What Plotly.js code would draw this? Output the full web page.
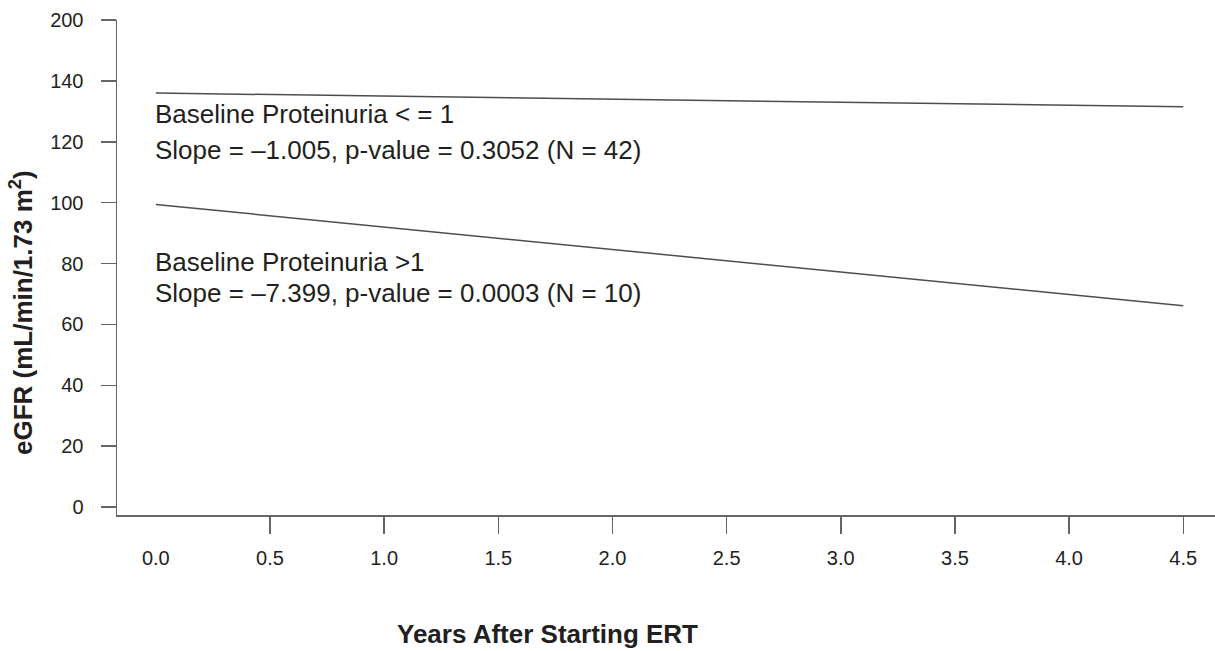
<!DOCTYPE html>
<html>
<head>
<meta charset="utf-8">
<script src="https://cdn.plot.ly/plotly-3.0.1.min.js"></script>
<style>
html,body{margin:0;padding:0;background:#fff;}
#chart{width:1215px;height:651px;}
</style>
</head>
<body>
<div id="chart"></div>
<script>
// Data
const years = [0.0, 4.5];
const egfrLowProteinuria = [136.0, 131.5];   // Baseline Proteinuria <= 1
const egfrHighProteinuria = [99.4, 66.1];    // Baseline Proteinuria > 1
const xTickVals = [0.0, 0.5, 1.0, 1.5, 2.0, 2.5, 3.0, 3.5, 4.0, 4.5];
const xTickText = ["0.0", "0.5", "1.0", "1.5", "2.0", "2.5", "3.0", "3.5", "4.0", "4.5"];
const yTickVals = [0, 20, 40, 60, 80, 100, 120, 140, 160];
const yTickText = ["0", "20", "40", "60", "80", "100", "120", "140", "200"];
const labelLow = ["Baseline Proteinuria < = 1", "Slope = \u20131.005, p-value = 0.3052 (N = 42)"];
const labelHigh = ["Baseline Proteinuria >1", "Slope = \u20137.399, p-value = 0.0003 (N = 10)"];

const FONT = "Liberation Sans, Arial, Helvetica, sans-serif";
const TXT = "#231f20";
const LINE = "#4d4d4d";

const traces = [
  {x: years, y: egfrLowProteinuria, type: "scatter", mode: "lines",
   line: {color: LINE, width: 1.5}, showlegend: false, hoverinfo: "skip"},
  {x: years, y: egfrHighProteinuria, type: "scatter", mode: "lines",
   line: {color: LINE, width: 1.5}, showlegend: false, hoverinfo: "skip"},
  {x: [0], y: [0], xaxis: "x2", yaxis: "y", type: "scatter", mode: "markers",
   marker: {opacity: 0}, showlegend: false, hoverinfo: "skip"}
];

const xr = [-0.170, 4.639];
const layout = {
  width: 1215, height: 651,
  margin: {l: 117, r: 0, t: 20, b: 136},
  paper_bgcolor: "#fff", plot_bgcolor: "#fff",
  font: {family: FONT, color: TXT, size: 20},
  showlegend: false,
  xaxis: {
    range: xr, tickmode: "array", tickvals: xTickVals.slice(1),
    showticklabels: false, ticks: "outside", ticklen: 17, tickwidth: 1.5, tickcolor: "#666",
    showline: true, linecolor: "#666", linewidth: 1.5, showgrid: false, zeroline: false, fixedrange: true
  },
  xaxis2: {
    overlaying: "x", anchor: "y", side: "bottom", range: xr,
    tickmode: "array", tickvals: xTickVals, ticktext: xTickText,
    ticks: "", ticklabelstandoff: 29, showline: false, showgrid: false, zeroline: false,
    tickfont: {size: 20, color: TXT}, fixedrange: true
  },
  yaxis: {
    range: [-2.63, 160], tickmode: "array", tickvals: yTickVals, ticktext: yTickText,
    ticks: "outside", ticklen: 15, tickwidth: 1.5, tickcolor: "#666", ticklabelstandoff: 13,
    showline: true, linecolor: "#666", linewidth: 1.5, showgrid: false, zeroline: false,
    tickfont: {size: 20, color: TXT}, fixedrange: true
  },
  annotations: [
    {xref: "x", yref: "y", x: 0, y: 129.1, xanchor: "left", yanchor: "middle", xshift: -3,
     text: labelLow[0], showarrow: false, font: {size: 26, color: TXT}},
    {xref: "x", yref: "y", x: 0, y: 117.3, xanchor: "left", yanchor: "middle", xshift: -3,
     text: labelLow[1], showarrow: false, font: {size: 26, color: TXT}},
    {xref: "x", yref: "y", x: 0, y: 80.5, xanchor: "left", yanchor: "middle", xshift: -3,
     text: labelHigh[0], showarrow: false, font: {size: 26, color: TXT}},
    {xref: "x", yref: "y", x: 0, y: 70.2, xanchor: "left", yanchor: "middle", xshift: -3,
     text: labelHigh[1], showarrow: false, font: {size: 26, color: TXT}},
    {xref: "paper", yref: "paper", x: 0.3925, y: -0.241, xanchor: "center", yanchor: "middle",
     text: "<b>Years After Starting ERT</b>", showarrow: false, font: {size: 26, color: TXT}},
    {xref: "paper", yref: "paper", x: 0, y: 0.408, xshift: -96, xanchor: "center", yanchor: "middle",
     textangle: -90, text: "<b>eGFR (mL/min/1.73 m<sup>2</sup>)</b>", showarrow: false,
     font: {size: 26, color: TXT}}
  ]
};

Plotly.newPlot("chart", traces, layout, {displayModeBar: false, staticPlot: true});
</script>
</body>
</html>
